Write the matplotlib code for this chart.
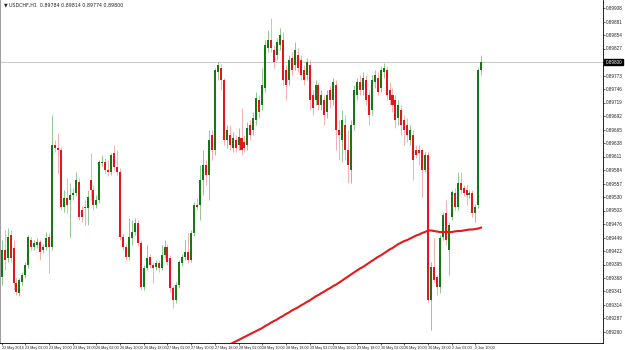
import matplotlib
matplotlib.use("Agg")
import matplotlib.pyplot as plt
import matplotlib.transforms as mtransforms
from matplotlib import font_manager
import numpy as np
import pandas as pd

# USDCHF H1, prices in points (price * 1e5)
open_pts = [
    89370, 89424, 89408, 89454, 89428, 89358, 89338, 89360, 89374, 89394,
    89444, 89430, 89434, 89440, 89424, 89430, 89450, 89430, 89634, 89628,
    89624, 89510, 89528, 89524, 89534, 89538, 89560, 89504, 89510, 89508,
    89564, 89544, 89514, 89524, 89598, 89600, 89584, 89580, 89618, 89590,
    89580, 89450, 89430, 89410, 89448, 89460, 89478, 89438, 89350, 89388,
    89410, 89394, 89390, 89398, 89388, 89414, 89430, 89408, 89348, 89324,
    89354, 89398, 89410, 89420, 89404, 89458, 89514, 89514, 89564, 89594,
    89574, 89654, 89624, 89780, 89788, 89764, 89644, 89654, 89628, 89644,
    89634, 89648, 89640, 89634, 89674, 89664, 89684, 89724, 89714, 89748,
    89828, 89844, 89824, 89814, 89834, 89844, 89784, 89764, 89808, 89794,
    89814, 89804, 89784, 89774, 89794, 89734, 89724, 89754, 89714, 89724,
    89700, 89744, 89724, 89754, 89664, 89644, 89674, 89624, 89584, 89674,
    89734, 89760, 89744, 89764, 89734, 89704, 89760, 89768, 89748, 89780,
    89784, 89744, 89734, 89724, 89688, 89704, 89684, 89674, 89644, 89654,
    89624, 89624, 89624, 89584, 89614, 89324, 89390, 89370, 89350, 89450,
    89498, 89424, 89490, 89538, 89510, 89558, 89548, 89544, 89534, 89538,
    89498, 89514, 89784,
]
high_pts = [
    89444, 89464, 89468, 89464, 89444, 89368, 89368, 89380, 89400, 89454,
    89450, 89444, 89448, 89444, 89436, 89460, 89458, 89694, 89644, 89658,
    89630, 89544, 89568, 89558, 89548, 89580, 89568, 89512, 89524, 89544,
    89618, 89554, 89534, 89604, 89614, 89608, 89604, 89618, 89634, 89624,
    89588, 89458, 89436, 89488, 89484, 89488, 89484, 89444, 89394, 89434,
    89416, 89400, 89404, 89404, 89434, 89444, 89436, 89414, 89354, 89360,
    89404, 89416, 89444, 89458, 89464, 89520, 89528, 89594, 89624, 89604,
    89664, 89664, 89788, 89800, 89796, 89768, 89674, 89674, 89660, 89654,
    89668, 89708, 89654, 89680, 89684, 89700, 89740, 89734, 89788, 89844,
    89864, 89888, 89834, 89848, 89868, 89860, 89794, 89814, 89820, 89840,
    89828, 89814, 89794, 89808, 89804, 89744, 89764, 89760, 89744, 89734,
    89744, 89754, 89768, 89764, 89684, 89704, 89694, 89664, 89684, 89754,
    89768, 89774, 89780, 89774, 89744, 89774, 89784, 89780, 89792, 89798,
    89792, 89760, 89748, 89734, 89724, 89714, 89694, 89688, 89674, 89664,
    89634, 89634, 89628, 89620, 89620, 89400, 89448, 89374, 89454, 89500,
    89524, 89480, 89544, 89548, 89580, 89580, 89554, 89554, 89544, 89544,
    89516, 89788, 89814,
]
low_pts = [
    89354, 89384, 89400, 89400, 89344, 89334, 89332, 89354, 89368, 89388,
    89424, 89424, 89428, 89404, 89418, 89424, 89378, 89424, 89620, 89578,
    89504, 89500, 89498, 89450, 89524, 89532, 89484, 89480, 89474, 89474,
    89524, 89504, 89508, 89518, 89592, 89578, 89572, 89574, 89584, 89574,
    89444, 89424, 89404, 89404, 89434, 89454, 89432, 89344, 89344, 89384,
    89388, 89358, 89384, 89380, 89384, 89408, 89394, 89340, 89308, 89318,
    89348, 89392, 89404, 89398, 89400, 89452, 89504, 89484, 89534, 89554,
    89524, 89604, 89614, 89764, 89744, 89634, 89628, 89624, 89620, 89620,
    89624, 89614, 89620, 89624, 89644, 89654, 89674, 89688, 89704, 89740,
    89820, 89820, 89788, 89804, 89824, 89754, 89724, 89754, 89774, 89784,
    89780, 89764, 89754, 89764, 89704, 89694, 89714, 89704, 89704, 89674,
    89688, 89708, 89714, 89624, 89604, 89600, 89604, 89558, 89558, 89664,
    89724, 89734, 89734, 89714, 89674, 89694, 89748, 89734, 89740, 89768,
    89724, 89714, 89700, 89668, 89674, 89654, 89634, 89640, 89634, 89564,
    89608, 89594, 89530, 89580, 89320, 89264, 89360, 89334, 89338, 89444,
    89434, 89374, 89484, 89504, 89504, 89538, 89532, 89514, 89528, 89490,
    89480, 89508, 89774,
]
close_pts = [
    89424, 89404, 89450, 89408, 89358, 89340, 89364, 89374, 89394, 89450,
    89430, 89438, 89440, 89420, 89430, 89448, 89430, 89634, 89628, 89624,
    89510, 89528, 89514, 89534, 89538, 89564, 89490, 89490, 89508, 89530,
    89544, 89514, 89524, 89600, 89600, 89584, 89580, 89614, 89590, 89580,
    89450, 89430, 89410, 89450, 89460, 89478, 89438, 89350, 89388, 89408,
    89394, 89388, 89398, 89388, 89414, 89430, 89400, 89348, 89324, 89354,
    89400, 89410, 89420, 89404, 89458, 89514, 89510, 89564, 89594, 89574,
    89644, 89624, 89784, 89794, 89764, 89644, 89664, 89634, 89648, 89628,
    89650, 89624, 89628, 89668, 89654, 89688, 89728, 89700, 89754, 89834,
    89844, 89828, 89800, 89840, 89854, 89764, 89754, 89804, 89784, 89824,
    89788, 89774, 89764, 89800, 89724, 89708, 89754, 89714, 89734, 89694,
    89734, 89724, 89760, 89664, 89654, 89684, 89624, 89594, 89674, 89744,
    89760, 89744, 89768, 89724, 89694, 89764, 89774, 89740, 89784, 89788,
    89734, 89724, 89714, 89684, 89714, 89674, 89664, 89654, 89664, 89604,
    89614, 89618, 89584, 89614, 89324, 89390, 89364, 89350, 89448, 89494,
    89444, 89474, 89540, 89510, 89558, 89544, 89538, 89534, 89538, 89498,
    89510, 89784, 89800,
]
# moving average, first value belongs to bar 76
ma_start = 76
ma_pts = [
    89232, 89235, 89238, 89241, 89244, 89247, 89250, 89253, 89256, 89259,
    89262, 89265, 89268, 89272, 89275, 89279, 89282, 89285, 89289, 89292,
    89296, 89299, 89303, 89306, 89309, 89313, 89316, 89320, 89323, 89327,
    89331, 89334, 89338, 89341, 89345, 89348, 89352, 89355, 89359, 89363,
    89367, 89371, 89375, 89379, 89383, 89387, 89390, 89394, 89398, 89402,
    89406, 89410, 89413, 89417, 89421, 89425, 89428, 89432, 89436, 89439,
    89442, 89444, 89447, 89450, 89453, 89455, 89458, 89460, 89463, 89463,
    89462, 89461, 89460, 89460, 89460, 89460, 89460, 89461, 89462, 89462,
    89463, 89464, 89465, 89465, 89466, 89467, 89469,
]

o = np.array(open_pts) / 1e5
h = np.array(high_pts) / 1e5
lo = np.array(low_pts) / 1e5
c = np.array(close_pts) / 1e5
ma = np.array(ma_pts) / 1e5

times = pd.date_range("2014-05-22 18:00", "2014-06-02 12:00", freq="h")
times = times[times.dayofweek < 5]
x = np.arange(len(c))

installed = {f.name for f in font_manager.fontManager.ttflist}
small_font = "Liberation Sans Narrow" if "Liberation Sans Narrow" in installed else "Liberation Sans"
x_size = 3.2 if small_font == "Liberation Sans Narrow" else 2.7

bull_body, bear_body = "#137a13", "#e8141c"
bull_wick, bear_wick = "#74b874", "#f29a9a"

fig = plt.figure(figsize=(6.25, 3.5), dpi=100)
ax = fig.add_axes([0.0, 0.02, 603 / 625, 0.98])
ax.set_xlim(-0.57, 203.1)
ax.set_ylim(0.89238, 0.89924)

up = c >= o
ax.vlines(x[up], lo[up], h[up], color=bull_wick, lw=0.55, zorder=2)
ax.vlines(x[~up], lo[~up], h[~up], color=bear_wick, lw=0.55, zorder=2)
body = np.maximum(np.abs(c - o), 0.00002)
ax.bar(x[up], body[up], bottom=np.minimum(o, c)[up], width=0.68,
       color=bull_body, lw=0, zorder=3)
ax.bar(x[~up], body[~up], bottom=np.minimum(o, c)[~up], width=0.68,
       color=bear_body, lw=0, zorder=3)

ma_x = np.arange(ma_start, ma_start + len(ma))
ax.plot(ma_x, ma, color="#e3191c", lw=1.5, zorder=4, solid_capstyle="round")

bid = c[-1]
ax.axhline(bid, color="#c8c8c8", lw=0.7, zorder=1)

# price scale on the right
yticks = np.round(0.89908 - 0.00027 * np.arange(25), 5)
ax.yaxis.tick_right()
ax.set_yticks(yticks)
ax.set_yticklabels(["" if abs(v - bid) < 1e-6 else f"{v:.5f}" for v in yticks],
                   family=small_font)
ax.tick_params(axis="y", labelsize=3.3, length=1.5, width=0.5, pad=0.8, colors="#222222")

tr = mtransforms.blended_transform_factory(ax.transAxes, ax.transData)
ax.text(1.004, bid, f"{bid:.5f}", transform=tr, fontsize=3.3, color="white",
        family=small_font, va="center", ha="left",
        bbox=dict(boxstyle="square,pad=0.2", fc="black", ec="black"))

# time scale
pos, labels = [], []
for i, t in enumerate(times):
    if i == 0:
        pos.append(i)
        labels.append("22 May 2014")
    elif t.hour in (2, 10, 18):
        pos.append(i)
        labels.append(f"{t.day} {t:%b %H:%M}")
ax.set_xticks(pos)
ax.set_xticklabels(labels, ha="left", family=small_font)
ax.tick_params(axis="x", labelsize=x_size, length=1.5, width=0.5, pad=0.5, colors="#222222")

ax.spines["top"].set_visible(False)
ax.spines["left"].set_color("#a0a0a0")
ax.spines["left"].set_linewidth(1.5)
ax.spines["right"].set_linewidth(0.6)
ax.spines["bottom"].set_linewidth(0.6)

fig.text(0.006, 0.986,
         f"\u25bc USDCHF,H1  {o[-1]:.5f} {h[-1]:.5f} {lo[-1]:.5f} {c[-1]:.5f}",
         fontsize=3.4, color="#222222", va="center", ha="left")

fig.savefig("out.png", dpi=100)
plt.close(fig)
